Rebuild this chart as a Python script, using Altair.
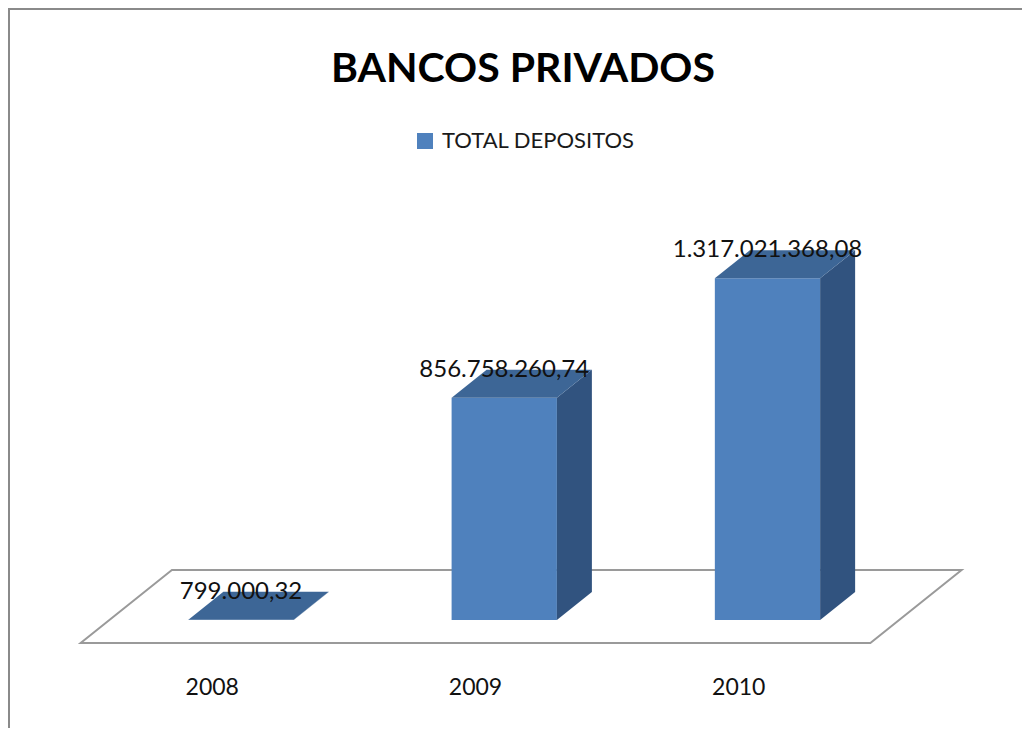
import altair as alt
import pandas as pd

# ---- data ----
years = ["2008", "2009", "2010"]
values = [799000.32, 856758260.74, 1317021368.08]
value_labels = ["799.000,32", "856.758.260,74", "1.317.021.368,08"]
series_name = "TOTAL DEPOSITOS"
title_text = "BANCOS PRIVADOS"

# ---- styling / layout constants ----
FRONT = "#4F81BD"
TOP = "#3D6696"
SIDE = "#31537F"
GRID = "#9a9a9a"
FONT = "Lato"

W, H = 1014, 620
PAD_TOP = 100
X_RANGE = [101.4, 891.1]
Y_MAX = 1.4e9
Y_BASE = 512.0
PX_PER_VAL = 2.594e-7
BAND_PX = (X_RANGE[1] - X_RANGE[0]) / 3
HALF = 0.2            # half bar width in band units (gap width 150%)
DEPTH = 28            # bar depth, px (vertical component)
SKEW = 1.25           # horizontal px per vertical px of depth
FLOOR_FRONT = -23
FLOOR_BACK = 50


def ddx(z):
    return SKEW * z / BAND_PX


def ddy(z):
    return z / PX_PER_VAL


front_rows, side_rows, top_rows, lab_rows, axis_rows = [], [], [], [], []
for i, (yr, v, lab) in enumerate(zip(years, values, value_labels)):
    front_rows.append({"year": yr, "series": series_name, "x": i - HALF, "x2": i + HALF, "y": 0.0, "y2": v})
    side_rows.append({"year": yr, "x": i + HALF, "y": v, "y2": 0.0})
    side_rows.append({"year": yr, "x": i + HALF + ddx(DEPTH), "y": v + ddy(DEPTH), "y2": ddy(DEPTH)})
    top_rows.append({"year": yr, "y": v, "x": i - HALF, "x2": i + HALF})
    top_rows.append({"year": yr, "y": v + ddy(DEPTH), "x": i - HALF + ddx(DEPTH), "x2": i + HALF + ddx(DEPTH)})
    lab_rows.append({"x": float(i), "y": v + ddy(DEPTH), "label": lab})
    axis_rows.append({"x": i + ddx(FLOOR_FRONT), "y": ddy(FLOOR_FRONT), "year": yr})

n = len(years)
floor_rows = [
    {"k": "f", "y": ddy(FLOOR_FRONT), "x": -0.5 + ddx(FLOOR_FRONT), "x2": n - 0.5 + ddx(FLOOR_FRONT)},
    {"k": "f", "y": ddy(FLOOR_BACK), "x": -0.5 + ddx(FLOOR_BACK), "x2": n - 0.5 + ddx(FLOOR_BACK)},
]

xs = alt.Scale(domain=[-0.5, n - 0.5], range=X_RANGE, nice=False, zero=False)
ys = alt.Scale(domain=[0, Y_MAX], range=[Y_BASE, Y_BASE - Y_MAX * PX_PER_VAL], nice=False, zero=False)

X = lambda f: alt.X(f, type="quantitative", scale=xs, axis=None)
Y = lambda f: alt.Y(f, type="quantitative", scale=ys, axis=None)

floor = alt.Chart(pd.DataFrame(floor_rows)).mark_area(
    orient="horizontal", fill="white", stroke=GRID, strokeWidth=2
).encode(y=Y("y"), x=X("x"), x2="x2")

front = alt.Chart(pd.DataFrame(front_rows)).mark_rect().encode(
    x=X("x"), x2="x2", y=Y("y"), y2="y2",
    color=alt.Color(
        "series:N",
        scale=alt.Scale(domain=[series_name], range=[FRONT]),
        legend=alt.Legend(
            title=None, orient="none", legendX=406, legendY=22, padding=0,
            symbolType="square", symbolSize=256, symbolStrokeWidth=0,
            labelFont=FONT, labelFontSize=22, labelColor="#1a1a1a", labelOffset=6,
            labelLimit=0,
        ),
    ),
)

side = alt.Chart(pd.DataFrame(side_rows)).mark_area(orient="vertical", color=SIDE).encode(
    x=X("x"), y=Y("y"), y2="y2", detail="year:N"
)

top = alt.Chart(pd.DataFrame(top_rows)).mark_area(orient="horizontal", color=TOP).encode(
    y=Y("y"), x=X("x"), x2="x2", detail="year:N"
)

labels = alt.Chart(pd.DataFrame(lab_rows)).mark_text(
    font=FONT, fontSize=24, color="#111111", baseline="middle", align="center"
).encode(x=X("x"), y=Y("y"), text="label:N")

axis_labels = alt.Chart(pd.DataFrame(axis_rows)).mark_text(
    font=FONT, fontSize=23, color="#111111", baseline="middle", align="center", dy=45
).encode(x=X("x"), y=Y("y"), text="year:N")

border_top = alt.Chart(pd.DataFrame({"a": [0]})).mark_rule(color="#8a8a8a", strokeWidth=2).encode(
    x=alt.value(0), x2=alt.value(W), y=alt.value(-PAD_TOP + 1)
)
border_left = alt.Chart(pd.DataFrame({"a": [0]})).mark_rule(color="#8a8a8a", strokeWidth=2).encode(
    x=alt.value(1), y=alt.value(-PAD_TOP), y2=alt.value(H)
)

chart = alt.layer(
    border_top, border_left, floor, front, side, top, labels, axis_labels
).properties(
    width=W,
    height=H,
    padding={"left": 0, "top": PAD_TOP, "right": 0, "bottom": 0},
    autosize=alt.AutoSizeParams(type="none"),
    title=alt.TitleParams(
        title_text, font=FONT, fontSize=41, fontWeight="bold", color="black",
        anchor="middle", frame="group", baseline="alphabetic", offset=-116, dx=8,
    ),
).configure_view(stroke=None)

chart.save("out.html", embed_options={"renderer": "svg", "actions": False})
